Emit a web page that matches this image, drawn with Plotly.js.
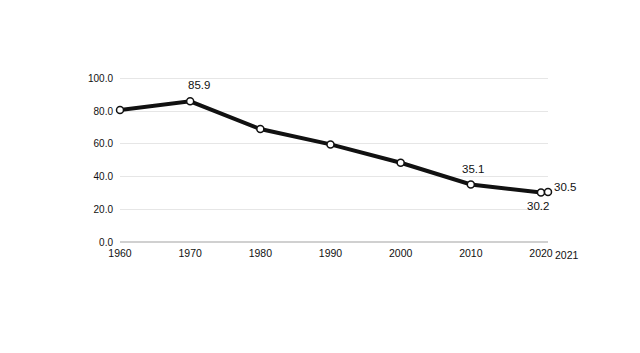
<!DOCTYPE html>
<html>
<head>
<meta charset="utf-8">
<script src="https://cdn.plot.ly/plotly-3.0.1.min.js"></script>
<style>html,body{margin:0;padding:0;background:#fff;}#chart{width:640px;height:353px;}</style>
</head>
<body>
<div id="chart"></div>
<script>
const years = [1960, 1970, 1980, 1990, 2000, 2010, 2020, 2021];
const values = [80.6, 85.9, 69.0, 59.6, 48.4, 35.1, 30.2, 30.5];
const labelYears = [1970, 2010, 2020, 2021];
const labelValues = [85.9, 35.1, 30.2, 30.5];
const labelText = ['85.9', '35.1', '30.2', '30.5'];
const xTickVals = [1960, 1970, 1980, 1990, 2000, 2010, 2020];
const xTickText = ['1960', '1970', '1980', '1990', '2000', '2010', '2020'];
const extraTick = '2021';
const yTickVals = [0, 20, 40, 60, 80, 100];

const labelShifts = [[9, 16], [2, 16], [-3, -13], [17, 5]];

const annotations = labelYears.map((yr, i) => ({
  x: yr, y: labelValues[i], xref: 'x', yref: 'y', text: labelText[i],
  showarrow: false, xshift: labelShifts[i][0], yshift: labelShifts[i][1],
  font: {family: 'Liberation Sans, Arial, sans-serif', size: 11.5, color: '#111'}
}));
annotations.push({
  x: 2021, y: 0, xref: 'x', yref: 'y', text: extraTick, showarrow: false,
  xshift: 19, yshift: -13, font: {family: 'Liberation Sans Narrow, Liberation Sans, Arial, sans-serif', size: 10.5, color: '#111'}
});

const trace = {
  x: years, y: values, type: 'scatter', mode: 'lines+markers',
  line: {color: '#111', width: 4},
  marker: {size: 7, color: '#fff', line: {color: '#111', width: 1.5}},
  cliponaxis: false, hoverinfo: 'skip'
};

const layout = {
  width: 640, height: 353,
  margin: {l: 120, r: 92, t: 75, b: 111, pad: 0},
  paper_bgcolor: '#fff', plot_bgcolor: '#fff',
  showlegend: false,
  xaxis: {
    range: [1960, 2021], tickmode: 'array', tickvals: xTickVals, ticktext: xTickText,
    showgrid: false, zeroline: false, showline: false, ticks: '', ticklabelstandoff: 3,
    tickfont: {family: 'Liberation Sans Narrow, Liberation Sans, Arial, sans-serif', size: 10.5, color: '#111'},
    fixedrange: true
  },
  yaxis: {
    range: [0, 102], tickmode: 'array', tickvals: yTickVals, tickformat: '.1f',
    showgrid: true, gridcolor: '#e6e6e6', gridwidth: 1,
    zeroline: true, zerolinecolor: '#d0d0d0', zerolinewidth: 2,
    showline: false, ticks: '', ticklabelstandoff: 6,
    tickfont: {family: 'Liberation Sans, Arial, sans-serif', size: 10, color: '#111'},
    fixedrange: true
  },
  annotations: annotations
};

Plotly.newPlot('chart', [trace], layout, {displayModeBar: false, staticPlot: true});
</script>
</body>
</html>
